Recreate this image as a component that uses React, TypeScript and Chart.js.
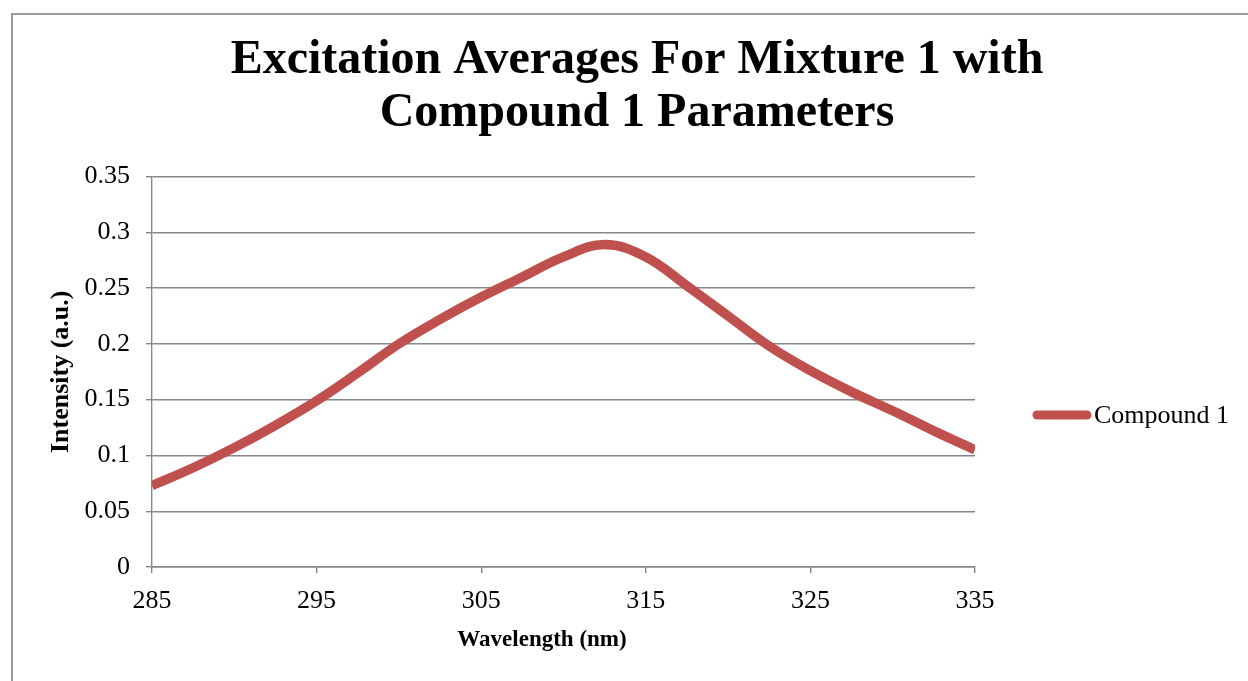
import React, { useEffect, useRef } from "react";
import { Chart, registerables } from "chart.js";

Chart.register(...registerables);

const TITLE_LINES = ["Excitation Averages For Mixture 1 with", "Compound 1 Parameters"];
const SERIES_NAME = "Compound 1";
const X_TITLE = "Wavelength (nm)";
const Y_TITLE = "Intensity (a.u.)";

const WAVELENGTHS = [
  285, 287.5, 290, 292.5, 295, 297.5, 300, 302.5, 305, 307.5, 310, 312.5, 315, 317.5,
  320, 322.5, 325, 327.5, 330, 332.5, 335,
];
const INTENSITY = [
  0.073, 0.089, 0.107, 0.127, 0.149, 0.174, 0.2, 0.222, 0.242, 0.26, 0.278, 0.289,
  0.278, 0.252, 0.225, 0.198, 0.176, 0.157, 0.14, 0.122, 0.105,
];
const X_TICKS = [285, 295, 305, 315, 325, 335];
const Y_TICKS = [0, 0.05, 0.1, 0.15, 0.2, 0.25, 0.3, 0.35];

const FONT = "'Liberation Serif', 'Times New Roman', serif";
const LINE_COLOR = "#C0504D";
const GRID_COLOR = "#878787";

const extrasPlugin = {
  id: "extras",
  afterDraw(chart: any) {
    const ctx = chart.ctx;
    const ds = chart.data.datasets[0];
    ctx.save();
    // legend
    ctx.strokeStyle = ds.borderColor;
    ctx.lineWidth = 9;
    ctx.lineCap = "round";
    ctx.beginPath();
    ctx.moveTo(1024, 400);
    ctx.lineTo(1074, 400);
    ctx.stroke();
    ctx.fillStyle = "#000";
    ctx.font = `26px ${FONT}`;
    ctx.textBaseline = "middle";
    ctx.textAlign = "left";
    ctx.fillText(ds.label, 1081, 401);
    // x axis title
    const xs = chart.scales.x;
    ctx.font = `bold 23px ${FONT}`;
    ctx.textAlign = "center";
    ctx.fillText(X_TITLE, 529, xs.bottom - 41);
    ctx.restore();
  },
};

export default function App() {
  const ref = useRef<HTMLCanvasElement | null>(null);
  useEffect(() => {
    if (!ref.current) return;
    const chart = new Chart(ref.current, {
      type: "line",
      data: {
        datasets: [
          {
            label: SERIES_NAME,
            data: WAVELENGTHS.map((x, i) => ({ x, y: INTENSITY[i] })),
            borderColor: LINE_COLOR,
            backgroundColor: LINE_COLOR,
            borderWidth: 9.5,
            pointRadius: 0,
            tension: 0.4,
            fill: false,
          },
        ],
      },
      options: {
        responsive: false,
        animation: false,
        layout: { padding: 0 },
        plugins: {
          legend: { display: false },
          tooltip: { enabled: false },
          title: {
            display: true,
            text: TITLE_LINES,
            color: "#000",
            font: { family: FONT, size: 48, weight: "bold", lineHeight: 1.11 },
            padding: { top: 19, bottom: 36 },
          },
        },
        scales: {
          x: {
            type: "linear",
            min: 285,
            max: 335,
            afterBuildTicks: (s: any) => {
              s.ticks = X_TICKS.map((v) => ({ value: v }));
            },
            afterFit: (s: any) => {
              s.height = 114;
            },
            grid: { drawOnChartArea: false, drawTicks: true, tickLength: 6, color: GRID_COLOR, lineWidth: 1.4 },
            border: { display: true, color: GRID_COLOR, width: 1.4 },
            ticks: {
              color: "#000",
              font: { family: FONT, size: 26 },
              padding: 13,
              maxRotation: 0,
              callback: (v: any) => String(v),
            },
            title: { display: false, text: X_TITLE },
          },
          y: {
            type: "linear",
            min: 0,
            max: 0.35,
            afterBuildTicks: (s: any) => {
              s.ticks = Y_TICKS.map((v) => ({ value: v }));
            },
            afterFit: (s: any) => {
              s.width = 139;
            },
            grid: { drawTicks: true, tickLength: 6, color: GRID_COLOR, lineWidth: 1.4 },
            border: { display: true, color: GRID_COLOR, width: 1.4 },
            ticks: {
              color: "#000",
              font: { family: FONT, size: 26 },
              padding: 16,
              callback: (v: any) => String(v),
            },
            title: {
              display: true,
              text: Y_TITLE,
              color: "#000",
              font: { family: FONT, size: 26, weight: "bold", lineHeight: 1.2 },
              padding: { top: 33, bottom: 0 },
            },
          },
          spacer: {
            type: "linear",
            position: "right",
            display: true,
            afterFit: (s: any) => {
              s.width = 286;
            },
            grid: { display: false, drawOnChartArea: false },
            border: { display: false },
            ticks: { display: false },
          },
        },
      },
      plugins: [extrasPlugin],
    });
    return () => chart.destroy();
  }, []);

  return (
    <div style={{ position: "fixed", left: 0, top: 0, width: 1248, height: 681, overflow: "hidden", background: "#fff" }}>
      <div
        style={{
          position: "absolute",
          left: 11,
          top: 13,
          width: 1300,
          height: 720,
          border: "2px solid #9a9a9a",
          boxSizing: "border-box",
        }}
      />
      <div style={{ position: "absolute", left: 13, top: 15, width: 1248, height: 666 }}>
        <canvas ref={ref} width={1248} height={666} style={{ display: "block" }} />
      </div>
    </div>
  );
}
